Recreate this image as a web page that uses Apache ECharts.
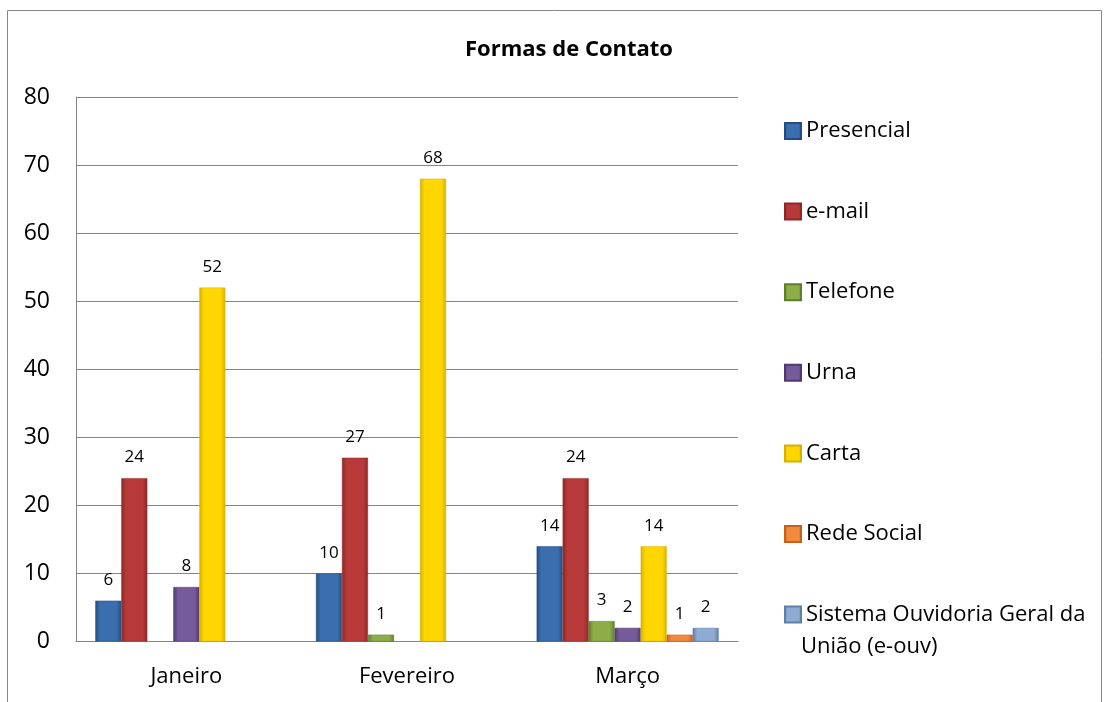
<!DOCTYPE html>
<html>
<head>
<meta charset="utf-8">
<script src="https://cdn.jsdelivr.net/npm/echarts@6/dist/echarts.min.js"></script>
<style>
  html, body { margin: 0; padding: 0; background: #fff; }
  #main { width: 1110px; height: 702px; }
</style>
</head>
<body>
<div id="main"></div>
<script>
var months = ['Janeiro', 'Fevereiro', 'Março'];
var seriesNames = ['Presencial', 'e-mail', 'Telefone', 'Urna', 'Carta', 'Rede Social', 'Sistema Ouvidoria Geral da União (e-ouv)'];
// valores por forma de contato (Jan, Fev, Mar); null = sem barra
var presencial = [6, 10, 14];
var email = [24, 27, 24];
var telefone = [null, 1, 3];
var urna = [8, null, 2];
var carta = [52, 68, 14];
var redeSocial = [null, null, 1];
var sistema = [null, null, 2];
var yTicks = [0, 10, 20, 30, 40, 50, 60, 70, 80];

var allValues = [presencial, email, telefone, urna, carta, redeSocial, sistema];
// [borda escura, centro]
var colors = [
  ['#234d80', '#3a6eae'],
  ['#8c2826', '#b8393a'],
  ['#5f7d2a', '#8cad48'],
  ['#4f3a70', '#765b9a'],
  ['#d9b000', '#ffd700'],
  ['#c8601a', '#f08a3c'],
  ['#5f7ea8', '#8eabd2']
];

function barColor(c) {
  return new echarts.graphic.LinearGradient(0, 0, 1, 0, [
    { offset: 0, color: c[0] },
    { offset: 0.18, color: c[1] },
    { offset: 0.82, color: c[1] },
    { offset: 1, color: c[0] }
  ]);
}

var series = [];
for (var i = 0; i < seriesNames.length; i++) {
  series.push({
    name: seriesNames[i],
    type: 'bar',
    data: allValues[i],
    barGap: '0%',
    barCategoryGap: '17.5%',
    itemStyle: { color: barColor(colors[i]), borderColor: colors[i][0], borderWidth: 0.5 },
    label: {
      show: true,
      position: 'top',
      distance: 12,
      color: '#000',
      fontSize: 17,
      fontFamily: 'Open Sans'
    }
  });
}

var chart = echarts.init(document.getElementById('main'));
chart.setOption({
  animation: false,
  color: colors.map(function (c) { return c[1]; }),
  title: {
    text: 'Formas de Contato',
    left: 564,
    textAlign: 'center',
    top: 34,
    textStyle: { fontFamily: 'Open Sans', fontSize: 22, fontWeight: 'bold', color: '#000' }
  },
  graphic: [{
    type: 'rect',
    shape: { x: 7.5, y: 10.5, width: 1094, height: 720 },
    style: { fill: 'none', stroke: '#868686', lineWidth: 1 },
    silent: true
  }, {
    // segunda linha da última legenda
    type: 'text',
    left: 801,
    top: 636,
    style: { text: 'União (e-ouv)', fill: '#000', font: '22px "Open Sans"' },
    silent: true
  }],
  legend: {
    orient: 'vertical',
    left: 779,
    top: 115,
    itemWidth: 16,
    itemHeight: 16,
    itemGap: 58.6,
    icon: 'rect',
    textStyle: { fontFamily: 'Open Sans', fontSize: 22, color: '#000', lineHeight: 22 },
    formatter: function (name) {
      return name === seriesNames[6] ? 'Sistema Ouvidoria Geral da' : name;
    },
    data: seriesNames
  },
  grid: { left: 76, right: 372, top: 97, bottom: 60.5, containLabel: false },
  xAxis: {
    type: 'category',
    data: months,
    axisLine: { lineStyle: { color: '#868686' } },
    axisTick: { show: false },
    axisLabel: { color: '#000', fontSize: 22, fontFamily: 'Open Sans', margin: 24 }
  },
  yAxis: {
    type: 'value',
    min: yTicks[0],
    max: yTicks[yTicks.length - 1],
    interval: 10,
    axisLine: { show: true, lineStyle: { color: '#868686' } },
    axisTick: { show: false },
    splitLine: { lineStyle: { color: '#868686' } },
    axisLabel: { color: '#000', fontSize: 23, fontFamily: 'Open Sans', margin: 26 }
  },
  series: series
});
</script>
</body>
</html>
